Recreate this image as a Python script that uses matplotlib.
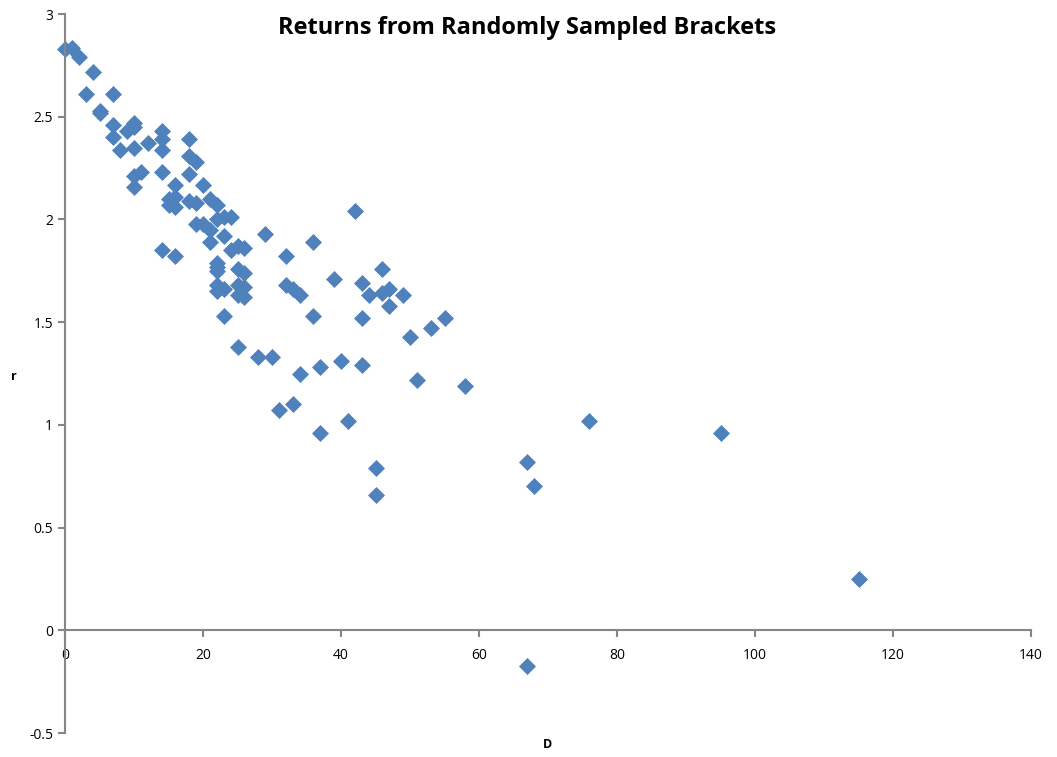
import numpy as np
import matplotlib.pyplot as plt

plt.rcParams['font.family'] = ['Open Sans', 'DejaVu Sans']

# bracket distance D and return r
D = [0, 1, 2, 4, 3, 7, 5, 5, 7, 9, 10, 10, 7, 8, 10, 12,
     14, 14, 14, 14, 18, 18, 19, 18, 16, 20, 10, 11, 10,
     15, 16, 15, 16, 18, 19, 21, 22, 22, 23, 24, 19, 20, 21, 21, 23,
     24, 25, 26, 29, 42, 36, 32, 14, 16, 22, 22, 22, 25, 26,
     39, 46, 32, 33, 34, 43, 44, 46, 47, 49, 47,
     22, 22, 23, 25, 26, 25, 26, 23, 36, 43, 55, 53, 50,
     25, 28, 30, 34, 37, 40, 43, 51, 58, 31, 33, 41, 37,
     76, 95, 45, 45, 67, 68, 115, 67]
r = [2.83, 2.835, 2.79, 2.72, 2.61, 2.61, 2.53, 2.52, 2.46, 2.43, 2.47, 2.45, 2.40, 2.34, 2.35, 2.37,
     2.43, 2.39, 2.34, 2.23, 2.39, 2.31, 2.28, 2.22, 2.17, 2.17, 2.21, 2.23, 2.16,
     2.10, 2.11, 2.07, 2.06, 2.09, 2.08, 2.10, 2.07, 2.00, 2.01, 2.01, 1.98, 1.98, 1.95, 1.89, 1.92,
     1.85, 1.87, 1.86, 1.93, 2.04, 1.89, 1.82, 1.85, 1.82, 1.79, 1.77, 1.75, 1.76, 1.74,
     1.71, 1.76, 1.68, 1.66, 1.63, 1.69, 1.63, 1.64, 1.66, 1.63, 1.58,
     1.68, 1.65, 1.66, 1.68, 1.67, 1.63, 1.62, 1.53, 1.53, 1.52, 1.52, 1.47, 1.43,
     1.38, 1.33, 1.33, 1.25, 1.28, 1.31, 1.29, 1.22, 1.19, 1.07, 1.10, 1.02, 0.96,
     1.02, 0.96, 0.79, 0.66, 0.82, 0.70, 0.25, -0.175]

xticks = [0, 20, 40, 60, 80, 100, 120, 140]
yticks = [-0.5, 0, 0.5, 1, 1.5, 2, 2.5, 3]

fig = plt.figure(figsize=(10.57, 7.57), dpi=100)
ax = fig.add_axes([0.0615, 0.0317, 0.914, 0.9498])

ax.plot(D, r, 'D', color='#4F81BD', ms=8, mec='#4F81BD', mew=0.5, clip_on=False)

ax.set_xlim(0, 140)
ax.set_ylim(-0.5, 3)
ax.set_xticks(xticks)
ax.set_yticks(yticks)
ax.set_xticklabels([str(t) for t in xticks])
ax.set_yticklabels(['-0.5', '0', '0.5', '1', '1.5', '2', '2.5', '3'])

for s in ['top', 'right']:
    ax.spines[s].set_visible(False)
ax.spines['bottom'].set_position(('data', 0))
for s in ['left', 'bottom']:
    ax.spines[s].set_color('#868686')
    ax.spines[s].set_linewidth(1.5)
ax.tick_params(axis='both', colors='#868686', width=1.5, length=5, direction='out',
               labelcolor='black', labelsize=10)
ax.tick_params(axis='x', pad=8)

fig.text(527 / 1057, 1 - 28 / 757, 'Returns from Randomly Sampled Brackets',
         ha='center', va='center', fontsize=17, fontweight='bold')
fig.text(548 / 1057, 1 - 745 / 757, 'D', ha='center', va='center', fontsize=9, fontweight='bold')
fig.text(14 / 1057, 1 - 376 / 757, 'r', ha='center', va='center', fontsize=9, fontweight='bold')

fig.savefig('out.png', dpi=100)
